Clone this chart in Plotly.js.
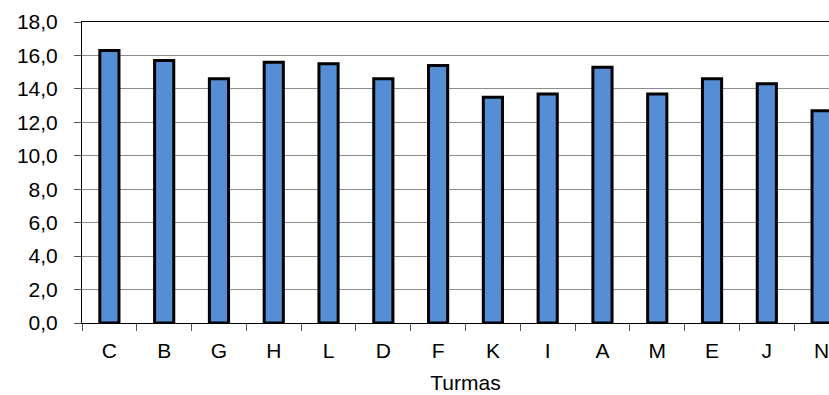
<!DOCTYPE html>
<html>
<head>
<meta charset="utf-8">
<script src="https://cdn.plot.ly/plotly-3.0.1.min.js"></script>
<style>
html, body { margin: 0; padding: 0; overflow: hidden; background: #fff; }
#chart { width: 870px; height: 395px; }
</style>
</head>
<body>
<div id="chart"></div>
<script>
const turmas = ["C", "B", "G", "H", "L", "D", "F", "K", "I", "A", "M", "E", "J", "N"];
const medias = [16.3, 15.7, 14.6, 15.6, 15.5, 14.6, 15.4, 13.5, 13.7, 15.3, 13.7, 14.6, 14.3, 12.7];
const yTickVals = [0, 2, 4, 6, 8, 10, 12, 14, 16, 18];

const font = { family: "Liberation Sans, Arial, sans-serif", color: "#000" };
const fs = 21;

const trace = {
  type: "bar",
  x: turmas,
  y: medias,
  width: 0.35,
  marker: { color: "#558ED5", line: { color: "#000", width: 3 } },
  hoverinfo: "none"
};

const layout = {
  width: 870,
  height: 395,
  margin: { l: 82, r: 21, t: 22, b: 72 },
  paper_bgcolor: "#fff",
  plot_bgcolor: "#fff",
  separators: ",.",
  showlegend: false,
  font: Object.assign({ size: fs }, font),
  xaxis: {
    type: "category",
    showline: true,
    linecolor: "#000",
    linewidth: 1,
    mirror: true,
    showgrid: false,
    ticks: "outside",
    tickson: "boundaries",
    ticklen: 7,
    tickcolor: "#555",
    tickfont: Object.assign({ size: fs }, font),
    ticklabelstandoff: 9,
    title: { text: "Turmas", font: Object.assign({ size: fs }, font), standoff: 14 }
  },
  yaxis: {
    range: [0, 18],
    tickvals: yTickVals,
    tickformat: ".1f",
    showline: true,
    linecolor: "#000",
    linewidth: 1,
    showgrid: true,
    gridcolor: "#8c8c8c",
    gridwidth: 1,
    zeroline: false,
    ticks: "outside",
    ticklen: 7,
    tickcolor: "#555",
    tickfont: Object.assign({ size: fs }, font),
    ticklabelstandoff: 12
  }
};

Plotly.newPlot("chart", [trace], layout, { displayModeBar: false, staticPlot: true });
</script>
</body>
</html>
